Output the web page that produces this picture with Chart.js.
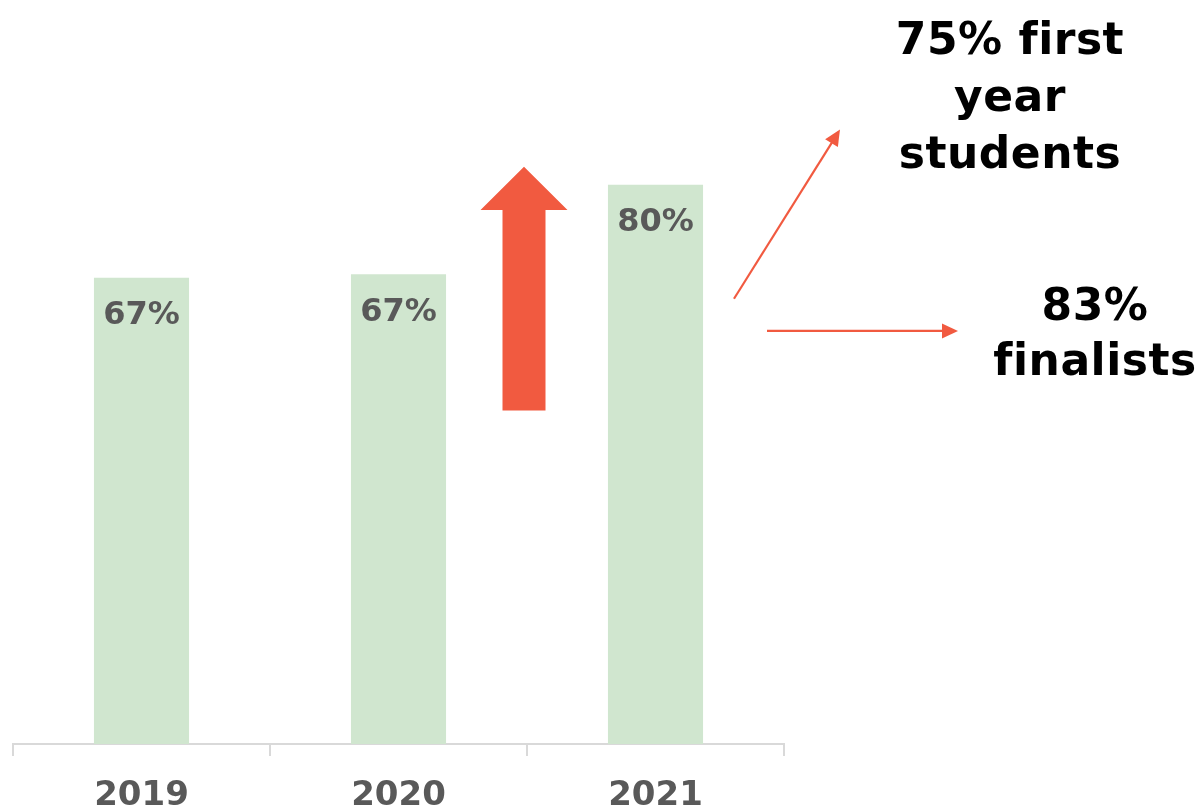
<!DOCTYPE html>
<html>
<head>
<meta charset="utf-8">
<script src="https://cdn.jsdelivr.net/npm/chart.js@4/dist/chart.umd.min.js"></script>
<style>
  html, body { margin: 0; padding: 0; background: #fff; }
  #wrap { width: 1197px; height: 809px; position: relative; }
</style>
</head>
<body>
<div id="wrap"><canvas id="rateChart"></canvas></div>
<script>
const years = ['2019', '2020', '2021'];
const rates = [66.7, 67.2, 80];
const firstYearNote = ['75% first', 'year', 'students'];
const finalistNote = ['83%', 'finalists'];

const FONT = '"DejaVu Sans", sans-serif';
const ARROW_RED = '#f15a40';

function drawArrowHead(ctx, x1, y1, x2, y2, len, half) {
    const a = Math.atan2(y2 - y1, x2 - x1);
    ctx.beginPath();
    ctx.moveTo(x2, y2);
    ctx.lineTo(x2 - len * Math.cos(a) + half * Math.sin(a), y2 - len * Math.sin(a) - half * Math.cos(a));
    ctx.lineTo(x2 - len * Math.cos(a) - half * Math.sin(a), y2 - len * Math.sin(a) + half * Math.cos(a));
    ctx.closePath();
    ctx.fill();
}

// percentages written inside the top of each bar
const barLabelPlugin = {
    id: 'barLabels',
    afterDatasetsDraw(chart) {
        const { ctx } = chart;
        const meta = chart.getDatasetMeta(0);
        ctx.save();
        ctx.font = 'bold 32px ' + FONT;
        ctx.fillStyle = '#595959';
        ctx.textAlign = 'center';
        ctx.textBaseline = 'middle';
        meta.data.forEach((bar, i) => {
            ctx.fillText(Math.round(rates[i]) + '%', bar.x, bar.y + 38);
        });
        ctx.restore();
    }
};

// growth arrow, pointer arrows and the side notes
const notesPlugin = {
    id: 'notes',
    afterDraw(chart) {
        const { ctx, chartArea, scales: { y } } = chart;
        const meta = chart.getDatasetMeta(0);
        const b2 = meta.data[1], b3 = meta.data[2];
        ctx.save();

        // big up arrow between 2020 and 2021
        const cx = (b2.x + b3.x) / 2 - 3;
        const bottom = y.getPixelForValue(47.7);
        const headBase = y.getPixelForValue(76.4);
        const tip = y.getPixelForValue(82.6);
        ctx.fillStyle = ARROW_RED;
        ctx.beginPath();
        ctx.moveTo(cx - 21.5, bottom);
        ctx.lineTo(cx - 21.5, headBase);
        ctx.lineTo(cx - 43.5, headBase);
        ctx.lineTo(cx, tip);
        ctx.lineTo(cx + 43.5, headBase);
        ctx.lineTo(cx + 21.5, headBase);
        ctx.lineTo(cx + 21.5, bottom);
        ctx.closePath();
        ctx.fill();

        // thin pointer arrows
        const r = chartArea.right;
        ctx.strokeStyle = ARROW_RED;
        ctx.lineWidth = 2.2;
        const lines = [
            [r - 50, y.getPixelForValue(63.7), r + 56, y.getPixelForValue(87.9)],
            [r - 17, y.getPixelForValue(59.1), r + 174, y.getPixelForValue(59.1)]
        ];
        lines.forEach(([x1, y1, x2, y2]) => {
            const a = Math.atan2(y2 - y1, x2 - x1);
            ctx.beginPath();
            ctx.moveTo(x1, y1);
            ctx.lineTo(x2 - 10 * Math.cos(a), y2 - 10 * Math.sin(a));
            ctx.stroke();
            drawArrowHead(ctx, x1, y1, x2, y2, 16, 7.5);
        });

        // side notes
        ctx.fillStyle = '#000';
        ctx.font = 'bold 44px ' + FONT;
        ctx.letterSpacing = '0.5px';
        ctx.textAlign = 'center';
        ctx.textBaseline = 'alphabetic';
        firstYearNote.forEach((t, i) => ctx.fillText(t, r + 226, 54 + i * 57));
        finalistNote.forEach((t, i) => ctx.fillText(t, r + 311, 320 + i * 55));

        ctx.restore();
    }
};

new Chart(document.getElementById('rateChart'), {
    type: 'bar',
    data: {
        labels: years,
        datasets: [{
            data: rates,
            backgroundColor: '#d0e6cf',
            barPercentage: 0.37,
            categoryPercentage: 1
        }]
    },
    options: {
        responsive: true,
        maintainAspectRatio: false,
        animation: false,
        layout: {
            padding: { left: 13, right: 413, top: 45, bottom: 0 }
        },
        plugins: {
            legend: { display: false },
            tooltip: { enabled: false }
        },
        scales: {
            y: {
                display: false,
                min: 0,
                max: 100
            },
            x: {
                afterFit(scale) { scale.height = 65; },
                border: { color: '#d9d9d9', width: 2 },
                grid: {
                    drawOnChartArea: false,
                    drawTicks: true,
                    tickLength: 12,
                    color: '#d9d9d9',
                    lineWidth: 2
                },
                ticks: {
                    color: '#595959',
                    padding: 23,
                    font: { family: FONT, size: 34, weight: 'bold', lineHeight: 1 }
                }
            }
        }
    },
    plugins: [barLabelPlugin, notesPlugin]
});
</script>
</body>
</html>
